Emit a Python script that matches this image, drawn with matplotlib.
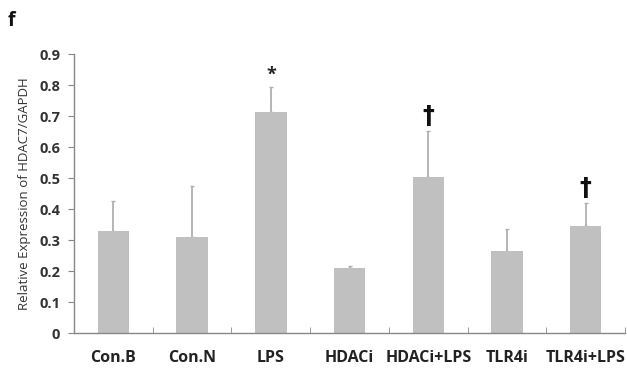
import matplotlib.pyplot as plt
import numpy as np

plt.rcParams['font.family'] = ['Open Sans', 'DejaVu Sans']

groups = ['Con.B', 'Con.N', 'LPS', 'HDACi', 'HDACi+LPS', 'TLR4i', 'TLR4i+LPS']
means = [0.33, 0.31, 0.715, 0.21, 0.503, 0.265, 0.345]
errs = [0.096, 0.165, 0.08, 0.008, 0.15, 0.07, 0.075]
marks = ['', '', '*', '', '\u2020', '', '\u2020']

fig = plt.figure(figsize=(6.27, 3.71), dpi=100)
ax = fig.add_axes([0.118, 0.102, 0.879, 0.752])

x = np.arange(len(groups))
ax.bar(x, means, width=0.4, color='#c0c0c0', zorder=2)
ax.errorbar(x, means, yerr=[np.zeros(len(errs)), errs], fmt='none',
            ecolor='#b0b0b0', elinewidth=1.3, capsize=1.5, capthick=1, zorder=1)

for xi, m, e, s in zip(x, means, errs, marks):
    if s == '*':
        ax.text(xi, m + e + 0.01, s, ha='center', va='bottom', fontsize=13,
                fontweight='bold', color='#222222')
    elif s:
        ax.text(xi, m + e + 0.008, s, ha='center', va='bottom', fontsize=17,
                fontweight='bold', color='#111111', family='DejaVu Sans')

ax.set_xlim(-0.5, len(groups) - 0.5)
ax.set_ylim(0, 0.9)
ax.set_yticks(np.arange(0, 0.91, 0.1))
ax.set_yticklabels(['0'] + ['%.1f' % v for v in np.arange(0.1, 0.91, 0.1)],
                   fontsize=10.5, fontweight='bold', color='#333333')
ax.set_xticks(x)
ax.set_xticklabels(groups, fontsize=11.5, fontweight='bold', color='#222222')
ax.tick_params(axis='x', length=0, pad=12)
ax.set_xticks(np.arange(-0.5, len(groups), 1.0), minor=True)
ax.tick_params(axis='x', which='minor', direction='in', length=4, color='#888888')
ax.tick_params(axis='y', direction='out', length=4, color='#888888', pad=6)

for side in ['top', 'right']:
    ax.spines[side].set_visible(False)
for side in ['left', 'bottom']:
    ax.spines[side].set_color('#888888')
    ax.spines[side].set_linewidth(1)

ax.set_ylabel('Relative Expression of HDAC7/GAPDH', fontsize=9.5, color='#333333', labelpad=6)
fig.text(0.012, 0.93, 'f', fontsize=14, fontweight='bold', color='#111111')

fig.savefig('out.png', dpi=100)
